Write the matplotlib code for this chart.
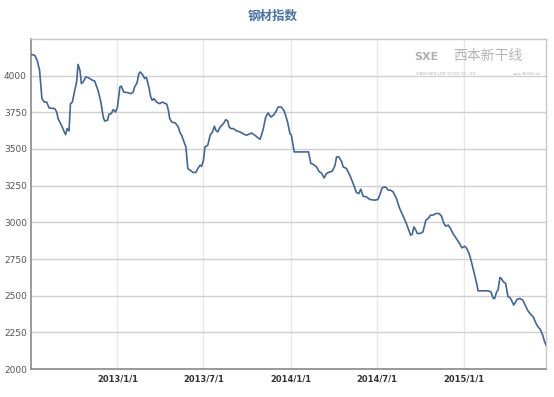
import pandas as pd
import matplotlib.pyplot as plt
import matplotlib.dates as mdates

plt.rcParams['font.family'] = ['Noto Sans CJK SC', 'DejaVu Sans']

# steel index
dates = [
    "2012-07-03", "2012-07-11", "2012-07-16", "2012-07-21", "2012-07-26", "2012-07-31",
    "2012-08-05", "2012-08-10", "2012-08-22", "2012-08-26", "2012-08-29", "2012-09-05",
    "2012-09-11", "2012-09-14", "2012-09-17", "2012-09-21", "2012-09-24", "2012-09-28",
    "2012-10-03", "2012-10-07", "2012-10-10", "2012-10-14", "2012-10-17", "2012-10-21",
    "2012-10-26", "2012-10-31", "2012-11-10", "2012-11-14", "2012-11-21", "2012-11-27",
    "2012-12-02", "2012-12-05", "2012-12-11", "2012-12-14", "2012-12-19", "2012-12-23",
    "2012-12-28", "2013-01-01", "2013-01-06", "2013-01-09", "2013-01-14", "2013-01-23",
    "2013-01-29", "2013-02-03", "2013-02-06", "2013-02-11", "2013-02-15", "2013-02-18",
    "2013-02-24", "2013-02-27", "2013-03-03", "2013-03-08", "2013-03-12", "2013-03-15",
    "2013-03-19", "2013-03-24", "2013-03-31", "2013-04-05", "2013-04-15", "2013-04-18",
    "2013-04-21", "2013-04-25", "2013-05-03", "2013-05-09", "2013-05-12", "2013-05-16",
    "2013-05-21", "2013-05-25", "2013-05-29", "2013-06-03", "2013-06-09", "2013-06-15",
    "2013-06-19", "2013-06-24", "2013-06-27", "2013-07-01", "2013-07-04", "2013-07-10",
    "2013-07-15", "2013-07-20", "2013-07-24", "2013-07-27", "2013-07-31", "2013-08-05",
    "2013-08-12", "2013-08-17", "2013-08-21", "2013-08-24", "2013-08-28", "2013-09-02",
    "2013-09-09", "2013-09-16", "2013-09-25", "2013-09-30", "2013-10-10", "2013-10-17",
    "2013-10-28", "2013-10-31", "2013-11-04", "2013-11-09", "2013-11-14", "2013-11-20",
    "2013-11-25", "2013-11-30", "2013-12-05", "2013-12-12", "2013-12-18", "2013-12-23",
    "2013-12-25", "2013-12-30", "2014-01-02", "2014-01-08", "2014-02-07", "2014-02-12",
    "2014-02-17", "2014-02-24", "2014-03-01", "2014-03-07", "2014-03-12", "2014-03-17",
    "2014-03-24", "2014-03-29", "2014-04-04", "2014-04-07", "2014-04-12", "2014-04-18",
    "2014-04-21", "2014-04-28", "2014-05-05", "2014-05-12", "2014-05-19", "2014-05-24",
    "2014-05-28", "2014-06-02", "2014-06-09", "2014-06-16", "2014-06-27", "2014-07-03",
    "2014-07-07", "2014-07-12", "2014-07-18", "2014-07-21", "2014-07-25", "2014-07-30",
    "2014-08-04", "2014-08-11", "2014-08-18", "2014-08-25", "2014-09-01", "2014-09-06",
    "2014-09-10", "2014-09-13", "2014-09-17", "2014-09-22", "2014-09-24", "2014-09-30",
    "2014-10-06", "2014-10-12", "2014-10-17", "2014-10-22", "2014-10-27", "2014-11-02",
    "2014-11-09", "2014-11-14", "2014-11-19", "2014-11-23", "2014-11-28", "2014-12-03",
    "2014-12-08", "2014-12-15", "2014-12-22", "2014-12-27", "2015-01-02", "2015-01-06",
    "2015-01-11", "2015-01-16", "2015-01-21", "2015-01-27", "2015-01-30", "2015-02-20",
    "2015-02-26", "2015-03-03", "2015-03-06", "2015-03-10", "2015-03-13", "2015-03-17",
    "2015-03-20", "2015-03-24", "2015-03-29", "2015-04-03", "2015-04-07", "2015-04-10",
    "2015-04-15", "2015-04-19", "2015-04-22", "2015-04-28", "2015-05-04", "2015-05-09",
    "2015-05-14", "2015-05-19", "2015-05-26", "2015-06-01", "2015-06-05", "2015-06-10",
    "2015-06-15", "2015-06-19", "2015-06-22",
]
index_values = [
    4145, 4138, 4104, 4036, 3843, 3820,
    3820, 3780, 3775, 3752, 3707, 3662,
    3616, 3598, 3639, 3623, 3809, 3820,
    3900, 3957, 4077, 4036, 3946, 3957,
    3991, 3987, 3968, 3963, 3900, 3820,
    3718, 3691, 3696, 3737, 3741, 3769,
    3752, 3786, 3922, 3929, 3888, 3884,
    3877, 3888, 3922, 3950, 4013, 4025,
    4002, 3980, 3987, 3922, 3854, 3832,
    3843, 3820, 3809, 3820, 3805, 3764,
    3707, 3684, 3677, 3650, 3616, 3594,
    3548, 3514, 3367, 3355, 3340, 3340,
    3367, 3389, 3382, 3423, 3514, 3525,
    3594, 3616, 3655, 3628, 3616, 3650,
    3673, 3700, 3691, 3650, 3639, 3639,
    3623, 3616, 3600, 3594, 3609, 3594,
    3566, 3594, 3639, 3718, 3746, 3718,
    3730, 3752, 3786, 3786, 3759, 3707,
    3684, 3605, 3594, 3480, 3480, 3401,
    3396, 3378, 3348, 3333, 3303, 3333,
    3344, 3348, 3389, 3446, 3446, 3412,
    3378, 3367, 3321, 3265, 3203, 3196,
    3226, 3178, 3174, 3156, 3151, 3156,
    3185, 3235, 3242, 3235, 3219, 3219,
    3208, 3163, 3094, 3044, 2992, 2947,
    2913, 2917, 2969, 2940, 2924, 2924,
    2935, 3015, 3026, 3049, 3049, 3060,
    3060, 3042, 2992, 2974, 2981, 2958,
    2924, 2890, 2856, 2826, 2837, 2822,
    2788, 2731, 2663, 2584, 2533, 2533,
    2526, 2481, 2481, 2526, 2538, 2624,
    2617, 2595, 2584, 2492, 2488, 2470,
    2436, 2458, 2475, 2481, 2470, 2436,
    2402, 2379, 2356, 2311, 2288, 2270,
    2231, 2186, 2164,
]

x_ticks = ["2013-01-01", "2013-07-01", "2014-01-01", "2014-07-01", "2015-01-01"]
x_tick_labels = ["2013/1/1", "2013/7/1", "2014/1/1", "2014/7/1", "2015/1/1"]
y_ticks = [2000, 2250, 2500, 2750, 3000, 3250, 3500, 3750, 4000]

df = pd.DataFrame({"date": pd.to_datetime(dates), "value": index_values})

fig = plt.figure(figsize=(5.54, 3.97), dpi=100)
ax = fig.add_axes([0.056, 0.0705, 0.9296, 0.8313])

ax.plot(df["date"], df["value"], color='#3f679a', linewidth=1.2, zorder=3)

ax.set_xlim(pd.Timestamp("2012-07-03"), pd.Timestamp("2015-06-22"))
ax.set_ylim(2000, 4250)

ax.set_xticks(pd.to_datetime(x_ticks))
ax.set_xticklabels(x_tick_labels, fontsize=6, fontweight='bold', color='#333333',
                   family='DejaVu Sans')
ax.set_yticks(y_ticks)
ax.set_yticklabels([str(v) for v in y_ticks], fontsize=6.5, color='#555555',
                   family='DejaVu Sans')
ax.tick_params(axis='both', length=0, pad=4)
ax.tick_params(axis='y', pad=3)

# grid: horizontal darker than vertical
ax.grid(axis='y', color='#d0d0d0', linewidth=1.0, zorder=0)
ax.grid(axis='x', color='#e8e8e8', linewidth=1.0, zorder=0)

for side in ['left', 'bottom']:
    ax.spines[side].set_color('#8a8a8a')
    ax.spines[side].set_linewidth(1.2)
for side in ['top', 'right']:
    ax.spines[side].set_color('#c8c8c8')
    ax.spines[side].set_linewidth(1.0)

# title
fig.text(0.493, 0.958, '钢材指数', ha='center', va='center', fontsize=9,
         fontweight='bold', color='#4a72a8')

# watermark logo top right
ax.text(0.745, 0.945, 'SXE', transform=ax.transAxes, fontsize=8, fontweight='bold',
        color='#b0b0b0', ha='left', va='center', family='DejaVu Sans')
ax.text(0.82, 0.948, '西本新干线', transform=ax.transAxes, fontsize=10,
        color='#b5b5b5', ha='left', va='center')
ax.text(0.748, 0.895, 'XIBEN NEW LINE STOCK CO., LTD.', transform=ax.transAxes,
        fontsize=2.6, color='#b0b0b0', ha='left', va='center', family='DejaVu Sans')
ax.text(0.935, 0.895, 'www.96369.net', transform=ax.transAxes, fontsize=2.6,
        color='#b0b0b0', ha='left', va='center', family='DejaVu Sans')

plt.savefig("out.png", dpi=100)
